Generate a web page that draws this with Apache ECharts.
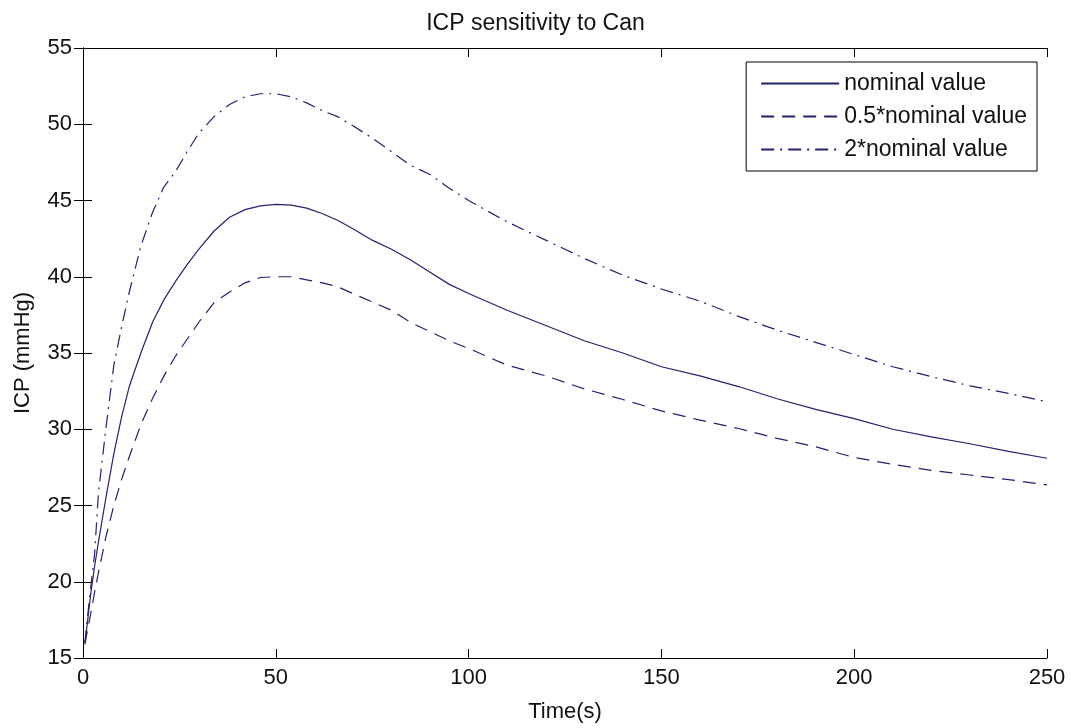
<!DOCTYPE html>
<html>
<head>
<meta charset="utf-8">
<script src="https://cdn.jsdelivr.net/npm/echarts@6/dist/echarts.min.js"></script>
<style>
html,body{margin:0;padding:0;background:#fff;}
#chart{width:1071px;height:728px;}
</style>
</head>
<body>
<div id="chart"></div>
<script>
// ---- data ----
const timeS = [0.5, 1, 2, 3, 4, 5, 6, 8, 10, 12, 15, 18, 21, 24, 27, 30, 34, 38, 42, 46, 50, 54, 58, 62, 66, 70, 75, 80, 85, 90, 95, 100, 110, 120, 130, 140, 150, 160, 170, 180, 190, 200, 210, 220, 230, 240, 250];
const nominal = [16.0, 17.0, 19.2, 21.0, 22.6, 24.1, 25.6, 28.4, 30.8, 32.8, 35.0, 37.0, 38.5, 39.7, 40.8, 41.8, 43.0, 43.9, 44.4, 44.65, 44.75, 44.7, 44.5, 44.15, 43.7, 43.15, 42.4, 41.8, 41.1, 40.3, 39.5, 38.9, 37.8, 36.8, 35.8, 35.0, 34.1, 33.5, 32.8, 32.0, 31.3, 30.7, 30.0, 29.5, 29.05, 28.55, 28.1];
const halfNominal = [15.9, 16.6, 17.9, 19.3, 20.6, 21.8, 23.0, 25.0, 26.7, 28.2, 30.3, 32.0, 33.5, 34.8, 35.9, 37.0, 38.3, 39.0, 39.6, 39.95, 40.0, 40.0, 39.8, 39.6, 39.35, 38.9, 38.35, 37.8, 37.0, 36.4, 35.8, 35.3, 34.2, 33.5, 32.65, 31.95, 31.2, 30.6, 30.05, 29.4, 28.85, 28.15, 27.7, 27.3, 27.0, 26.7, 26.35];
const doubleNominal = [16.0, 17.3, 19.6, 21.8, 25.8, 28.0, 30.2, 34.2, 36.7, 39.0, 42.0, 44.2, 45.9, 46.9, 48.2, 49.4, 50.5, 51.3, 51.8, 52.0, 52.0, 51.8, 51.4, 50.9, 50.5, 49.9, 49.1, 48.2, 47.3, 46.7, 45.8, 45.0, 43.6, 42.4, 41.2, 40.1, 39.2, 38.4, 37.4, 36.5, 35.7, 34.9, 34.1, 33.45, 32.85, 32.35, 31.8];
const seriesNames = ['nominal value', '0.5*nominal value', '2*nominal value'];
const xTicks = [0, 50, 100, 150, 200, 250];
const yTicks = [15, 20, 25, 30, 35, 40, 45, 50, 55];

// ---- chart ----
const FONT = 'Liberation Sans, Arial, sans-serif';
const LINE = '#22226e';
const zip = arr => timeS.map((t, i) => [t, arr[i]]);
const chart = echarts.init(document.getElementById('chart'), null, {renderer: 'canvas'});

const axisCommon = {
  axisLine: {show: true, lineStyle: {color: '#000', width: 1}},
  axisTick: {show: true, inside: true, length: 9, lineStyle: {color: '#000', width: 1}},
  splitLine: {show: false}
};

function mkSeries(name, data, type) {
  return {
    name: name, type: 'line', data: data, symbol: 'none', smooth: false,
    lineStyle: {color: LINE, width: 1.2, type: type},
    itemStyle: {color: LINE},
    xAxisIndex: 0, yAxisIndex: 0, animation: false
  };
}

chart.setOption({
  backgroundColor: '#fff',
  animation: false,
  title: {
    text: 'ICP sensitivity to Can', left: 'center', top: 7,
    textStyle: {fontFamily: FONT, fontSize: 23, fontWeight: 'normal', color: '#111'}
  },
  grid: {left: 83, right: 24, top: 48, bottom: 68, containLabel: false},
  legend: {
    orient: 'vertical', right: 34, top: 62,
    data: seriesNames,
    itemWidth: 78, itemHeight: 20, itemGap: 10,
    padding: [10, 10, 10, 14],
    itemStyle: {opacity: 0},
    borderColor: '#000', borderWidth: 1, backgroundColor: '#fff', borderRadius: 0,
    textStyle: {fontFamily: FONT, fontSize: 23, color: '#111'}
  },
  xAxis: [
    Object.assign({
      type: 'value', min: xTicks[0], max: xTicks[xTicks.length - 1], interval: 50,
      name: 'Time(s)', nameLocation: 'middle', nameGap: 43,
      nameTextStyle: {fontFamily: FONT, fontSize: 22, color: '#111'},
      axisLabel: {fontFamily: FONT, fontSize: 22, color: '#111', margin: 9}
    }, axisCommon),
    Object.assign({
      type: 'value', position: 'top', min: xTicks[0], max: xTicks[xTicks.length - 1], interval: 50,
      axisLabel: {show: false}
    }, axisCommon)
  ],
  yAxis: [
    Object.assign({
      type: 'value', min: yTicks[0], max: yTicks[yTicks.length - 1], interval: 5,
      name: 'ICP (mmHg)', nameLocation: 'middle', nameGap: 49, nameRotate: 90,
      nameTextStyle: {fontFamily: FONT, fontSize: 22, color: '#111'},
      axisLabel: {fontFamily: FONT, fontSize: 22, color: '#111', margin: 11}
    }, axisCommon),
    Object.assign({
      type: 'value', position: 'right', min: yTicks[0], max: yTicks[yTicks.length - 1], interval: 5,
      axisLabel: {show: false}
    }, axisCommon)
  ],
  series: [
    mkSeries(seriesNames[0], zip(nominal), 'solid'),
    mkSeries(seriesNames[1], zip(halfNominal), [13, 8]),
    mkSeries(seriesNames[2], zip(doubleNominal), [13, 6, 2, 6])
  ]
});
</script>
</body>
</html>
